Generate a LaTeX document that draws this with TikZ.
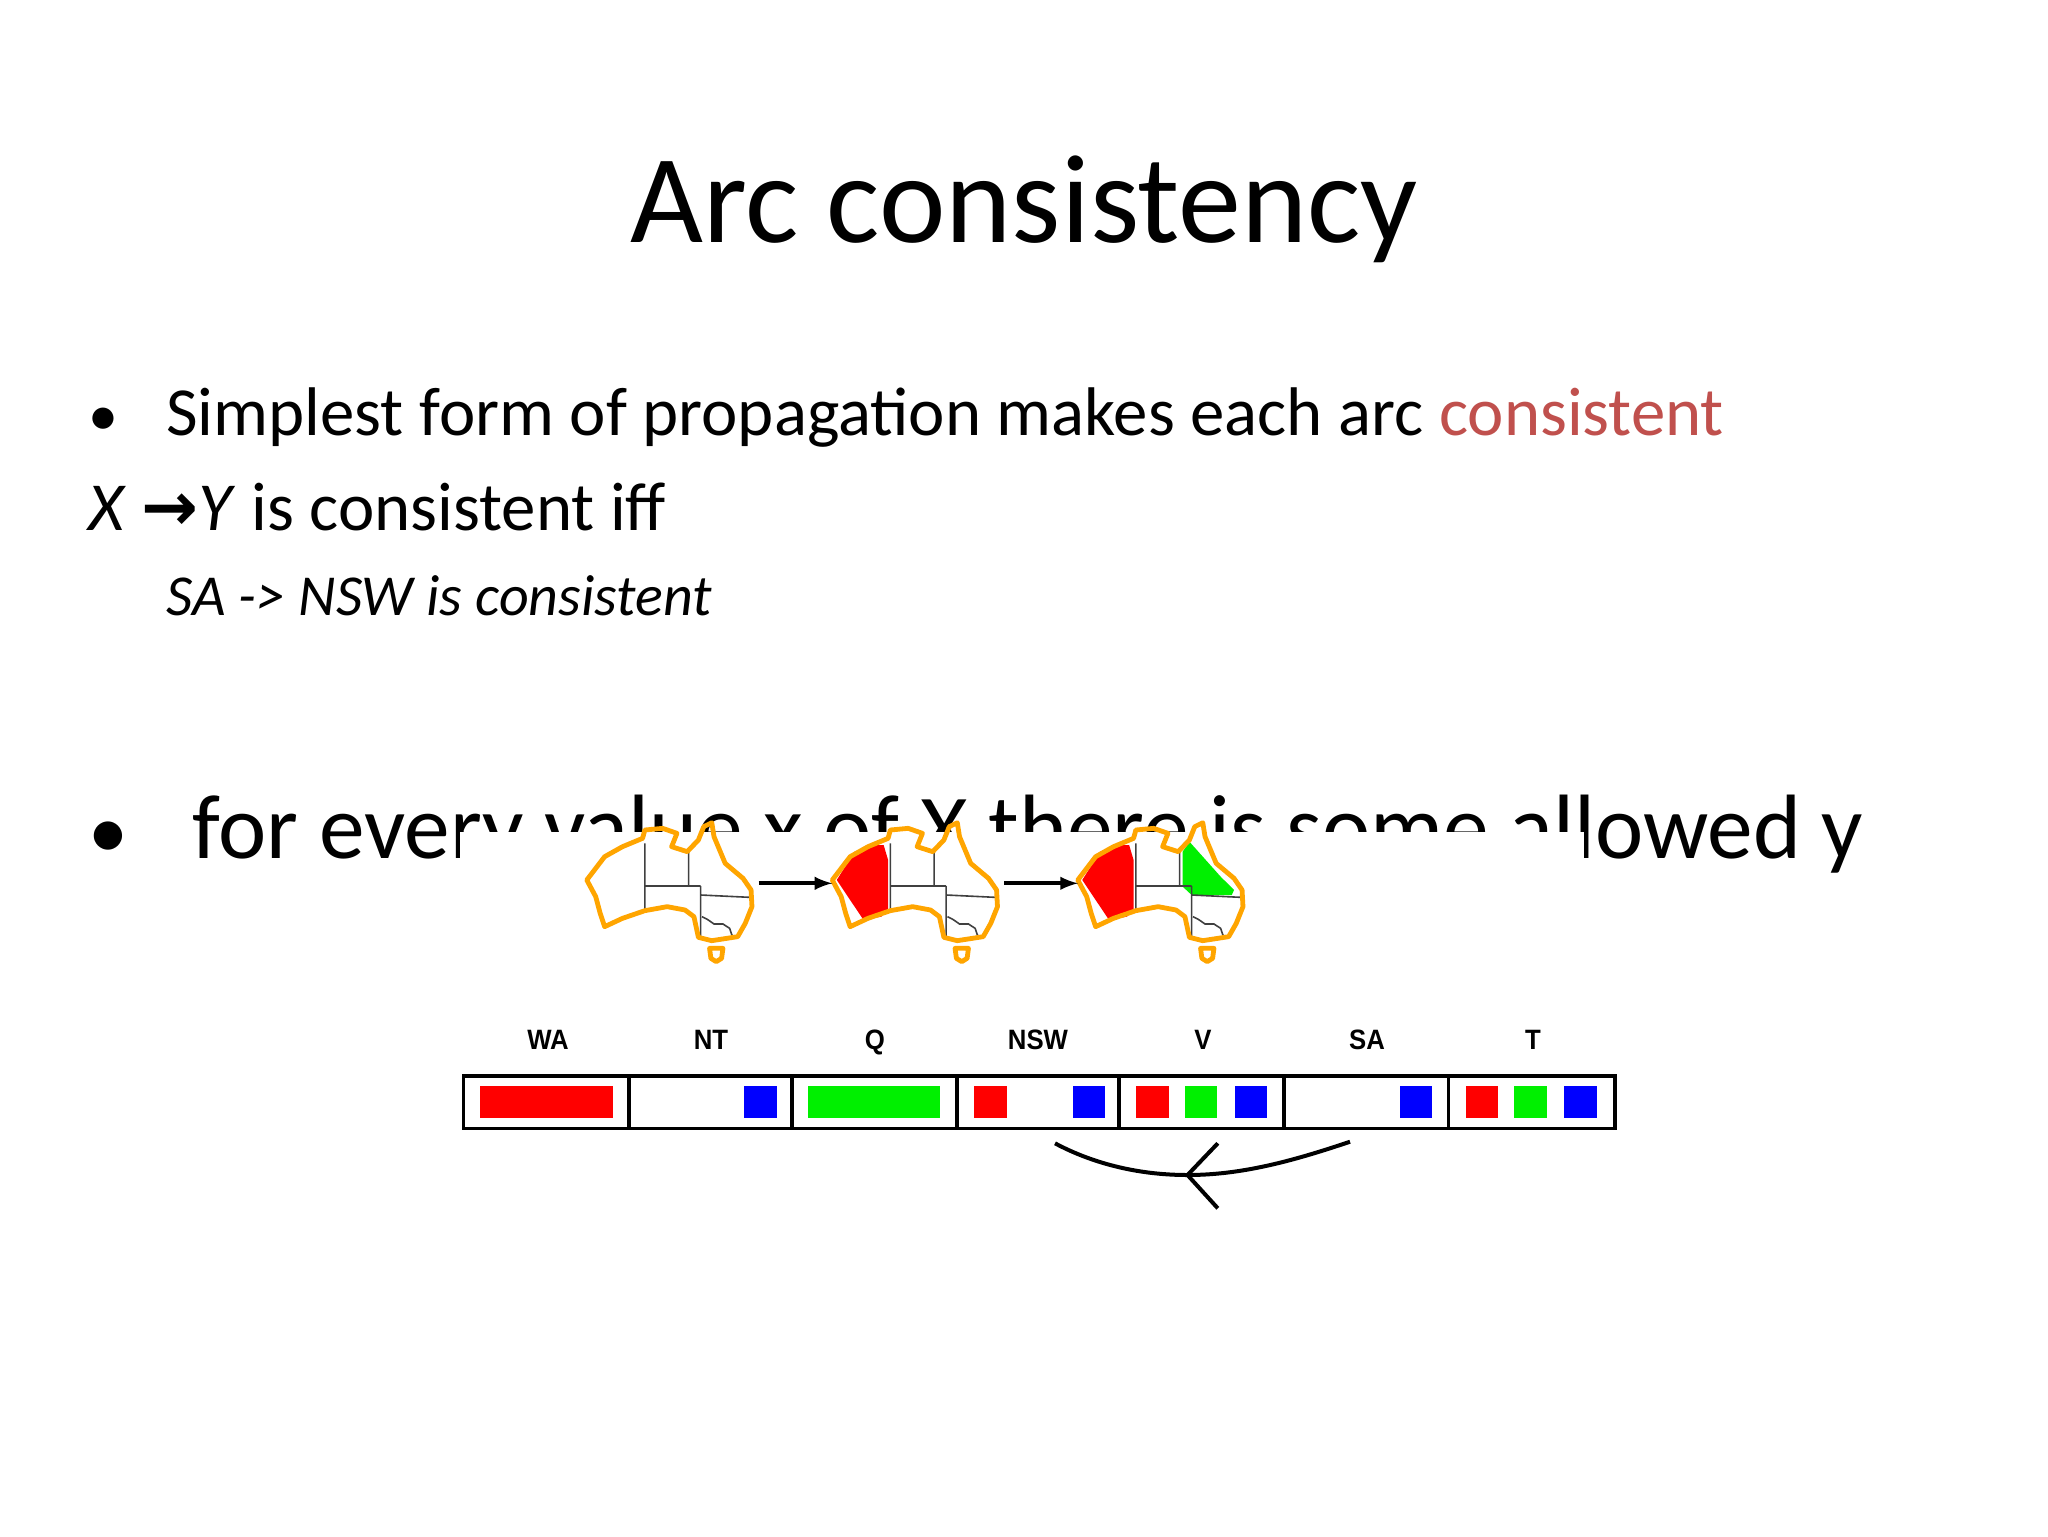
\documentclass[tikz,border=0pt]{standalone}
\usepackage{fontspec}
\setmainfont{Carlito}
\newfontfamily\lab{Liberation Sans}
\newfontfamily\djv{DejaVu Sans}
\definecolor{accred}{HTML}{C0504D}
\definecolor{orng}{HTML}{FFA500}
\definecolor{rd}{HTML}{FF0000}
\definecolor{gr}{HTML}{00F000}
\definecolor{bl}{HTML}{0000FF}
\begin{document}
\begin{tikzpicture}[x=0.5pt,y=-0.5pt,
  txt/.style={anchor=base west,inner sep=0pt},
  dom/.style={anchor=base,inner sep=0pt,xscale=0.92,font=\lab\bfseries\fontsize{14}{14}\selectfont},
  outline/.style={draw=orng,line width=2.4pt,line join=round},
  border/.style={draw=black!75,line width=0.8pt},
  cellbox/.style={draw=black,line width=1.6pt},
  sq/.style={inner sep=0pt}]
\useasboundingbox (0,0) rectangle (2048,1536);
\fill[white] (0,0) rectangle (2048,1536);
\node[anchor=base,inner sep=0pt,font=\fontsize{63}{63}\selectfont] (title) at (1024,242) {Arc consistency};
\node[txt,font=\fontsize{30}{30}\selectfont] (b1) at (88,435) {•};
\node[txt,font=\fontsize{34.4}{34.4}\selectfont] (l1) at (166,435) {Simplest form of propagation makes each arc \textcolor{accred}{consistent}};
\node[txt,font=\fontsize{34.4}{34.4}\selectfont] (l2) at (88,530) {\textit{X} {\djv\bfseries\fontsize{34}{34}\selectfont →}\textit{Y} is consistent iff};
\node[txt,font=\fontsize{29}{29}\selectfont\itshape] (l3) at (166,615) {SA -> NSW is consistent};
\node[txt,font=\fontsize{40}{40}\selectfont] (b2) at (88,858) {•};
\node[txt,font=\fontsize{45.7}{45.7}\selectfont] (l4) at (192,858) {for every value x of X there is some allowed y};
% image cover
\fill[white] (460,832) rectangle (1584,1536);
% maps
\foreach \i/\ox in {1/560,2/805.5,3/1051}{
\begin{scope}[shift={(\ox,780)},x=0.5pt/2.24,y=-0.5pt/3]
 \ifnum\i>1
 \fill[rd] (70,300)--(110,215)--(150,195)--(175,195)--(185,240)--(185,390)--(170,410)--(130,420)--(110,380)--(90,340)--cycle;
 \fi
 \ifnum\i=3
 \fill[gr] (295,215)--(310,185)--(340,230)--(380,290)--(410,330)--(405,345)--(315,345)--(295,320)--cycle;
 \fi
 \draw[border] (190,190)--(190,395) (190,318)--(315,318) (288,215)--(288,318) (315,318)--(315,470) (315,345)--(425,352);
 \draw[border] (318,410)--(330,418)--(345,432)--(365,432)--(380,445)--(385,465)--(395,475);
 \draw[outline] (60,300)--(100,230)--(140,200)--(185,175)--(190,150)--(230,145)--(262,160)--(250,200)--(285,215)--(310,180)--(322,140)--(340,128)--(345,170)--(370,250)--(410,295)--(428,330)--(430,380)--(415,430)--(398,470)--(340,482)--(310,472)--(300,410)--(280,390)--(240,380)--(190,392)--(140,415)--(100,440)--(90,400)--(80,350)--cycle;
 \draw[outline] (335,505)--(365,505)--(362,535)--(350,545)--(338,535)--cycle;
\end{scope}}
\coordinate (a1s) at (758.7,883.3); \coordinate (a1e) at (832.3,883.3);
\coordinate (a2s) at (1004,883.3); \coordinate (a2e) at (1078,883.3);
\draw[line width=2pt,-latex] (a1s)--(a1e);
\draw[line width=2pt,-latex] (a2s)--(a2e);
% domain labels
\foreach \n/\x/\t in {wa/548/WA,nt/711/NT,q/875/Q,nsw/1038/NSW,v/1203/V,sa/1367/SA,t/1533/T}
  \node[dom] (lab\n) at (\x,1049) {\t};
% bar
\draw[cellbox] (463.6,1076) rectangle (1615,1128.3);
\foreach \x in {629,792,957,1119,1284,1448.5} \draw[cellbox] (\x,1076)--(\x,1128.3);
\def\sqr#1#2#3{\fill[#3] (#1+#2,1086) rectangle (#1+#2+32.5,1118.3);}
\fill[rd] (480,1086) rectangle (612.6,1118.3);
\fill[bl] (743.5,1086) rectangle (776.8,1118.3);
\fill[gr] (807.8,1086) rectangle (940,1118.3);
\sqr{957}{17.4}{rd}\sqr{957}{115.7}{bl}
\sqr{1119}{17.4}{rd}\sqr{1119}{65.8}{gr}\sqr{1119}{115.7}{bl}
\sqr{1284}{115.7}{bl}
\sqr{1448.5}{17.4}{rd}\sqr{1448.5}{65.8}{gr}\sqr{1448.5}{115.7}{bl}
% arc
\coordinate (arcS) at (1055,1143.3); \coordinate (arcM) at (1187.5,1175); \coordinate (arcE) at (1350,1141.7);
\draw[line width=2pt] (arcE) .. controls (1290,1162) and (1240,1175) .. (arcM) .. controls (1135,1175) and (1090,1162) .. (arcS);
\coordinate (h1) at (1217.8,1143.3); \coordinate (h2) at (1217.8,1208.3);
\draw[line width=2pt] (h1)--(arcM)--(h2);
\end{tikzpicture}
\end{document}
